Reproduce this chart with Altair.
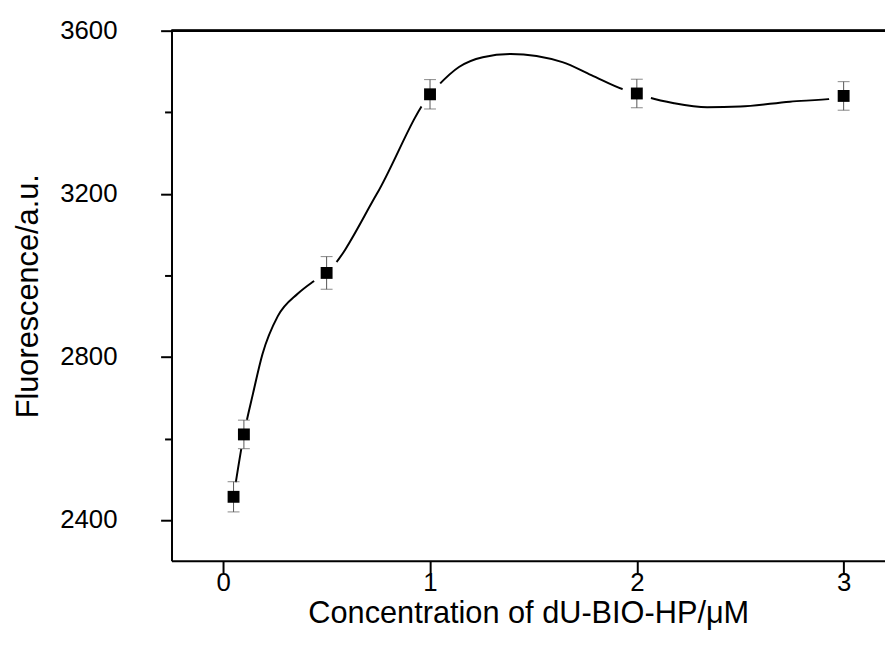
import altair as alt
import pandas as pd

# measured points
conc = [0.05, 0.1, 0.5, 1.0, 2.0, 3.0]
fluor = [2457, 2610, 3006, 3444, 3446, 3440]
err = [37, 35, 40, 36, 35, 35]

# smooth curve
curve_x = [0.05, 0.1, 0.144, 0.19, 0.264, 0.36, 0.43, 0.5, 0.743, 1.0, 1.04, 1.14,
           1.255, 1.39, 1.64, 1.78, 1.94, 2.0, 2.06, 2.18, 2.34, 2.50, 2.74,
           2.95, 3.0]
curve_y = [2457, 2610, 2710, 2807, 2900, 2955, 2983, 3006, 3200, 3444, 3466, 3511,
           3535, 3543, 3523, 3491, 3455, 3446, 3436, 3422, 3412, 3414, 3426,
           3434, 3440]

x_ticks = [0, 0.5, 1, 1.5, 2, 2.5, 3]
y_ticks = [2400, 2600, 2800, 3000, 3200, 3400, 3600]

df = pd.DataFrame({"x": conc, "y": fluor, "err": err})
df["lo"] = df["y"] - df["err"]
df["hi"] = df["y"] + df["err"]
cdf = pd.DataFrame({"x": curve_x, "y": curve_y})

FONT = "Liberation Sans"
xs = alt.Scale(domain=[-0.25, 3.2], nice=False, zero=False)
ys = alt.Scale(domain=[2300, 3600], nice=False, zero=False)

xaxis = alt.Axis(
    values=x_ticks, format="d",
    labelExpr="datum.value % 1 === 0 ? datum.label : ''",
    tickSize={"condition": {"test": "datum.value % 1 === 0", "value": 12}, "value": 6},
    tickWidth=2, tickColor="black", domainWidth=2, domainColor="black",
    labelFont=FONT, labelFontSize=26, labelColor="black", labelPadding=-3,
    titleFont=FONT, titleFontSize=31, titleFontWeight="normal", titleColor="black",
    titlePadding=3, grid=False,
)
yaxis = alt.Axis(
    values=y_ticks, format="d",
    labelExpr="datum.value % 400 === 0 ? datum.label : ''",
    tickSize={"condition": {"test": "datum.value % 400 === 0", "value": 11}, "value": 7},
    tickWidth=2, tickColor="black", domainWidth=2, domainColor="black",
    labelFont=FONT, labelFontSize=26, labelColor="black", labelPadding=44,
    titleFont=FONT, titleFontSize=31, titleFontWeight="normal", titleColor="black",
    titlePadding=15, grid=False,
)

YT = "Fluorescence/a.u."
X = alt.X("x:Q", scale=xs, axis=xaxis, title="Concentration of dU-BIO-HP/\u03bcM")
Y = alt.Y("y:Q", scale=ys, axis=yaxis, title=YT)

line = alt.Chart(cdf).mark_line(interpolate="monotone", color="black", strokeWidth=2).encode(x=X, y=Y)
halo = alt.Chart(df).mark_point(shape="circle", filled=True, opacity=1, size=900).encode(
    x=X, y=Y, color=alt.value("white"))
bars = alt.Chart(df).mark_rule(color="#555555", strokeWidth=1).encode(
    x=X, y=alt.Y("lo:Q", scale=ys, axis=yaxis, title=YT), y2="hi:Q")
cap_lo = alt.Chart(df).mark_tick(orient="horizontal", size=12, thickness=1, color="#555555").encode(
    x=X, y=alt.Y("lo:Q", scale=ys, axis=yaxis, title=YT))
cap_hi = alt.Chart(df).mark_tick(orient="horizontal", size=12, thickness=1, color="#555555").encode(
    x=X, y=alt.Y("hi:Q", scale=ys, axis=yaxis, title=YT))
pts = alt.Chart(df).mark_point(shape="square", filled=True, color="black", opacity=1, size=144).encode(x=X, y=Y)
top = alt.Chart(df).mark_rule(color="black", strokeWidth=2).encode(
    x=alt.value(0), x2=alt.value(720), y=alt.value(0))

chart = alt.layer(line, halo, bars, cap_lo, cap_hi, pts, top).properties(
    width=720, height=535,
    autosize=alt.AutoSizeParams(type="none"),
    padding={"left": 165, "top": 20, "right": 0, "bottom": 78},
).configure_view(stroke=None).configure(background="white")

chart.save("out.html", embed_options={"renderer": "svg", "actions": False})
